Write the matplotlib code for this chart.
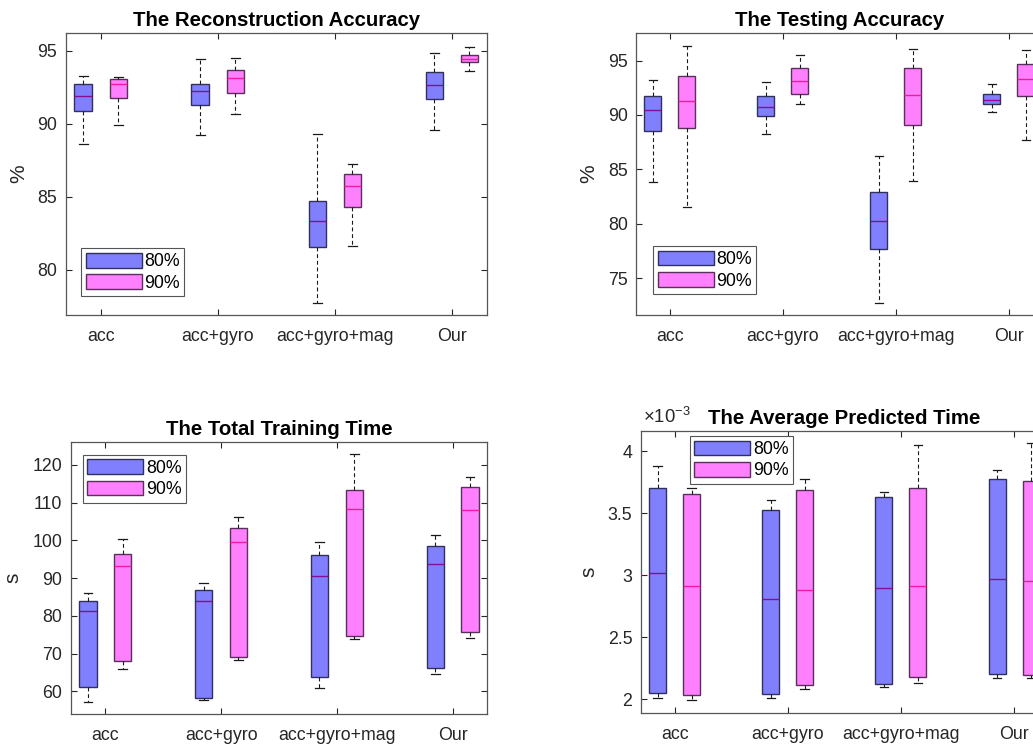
import matplotlib
matplotlib.use("Agg")
import matplotlib.pyplot as plt
from matplotlib.patches import Patch
from matplotlib.ticker import FuncFormatter, FixedLocator

plt.rcParams['font.family'] = ['Liberation Sans', 'DejaVu Sans']
plt.rcParams['mathtext.fontset'] = 'custom'
plt.rcParams['mathtext.rm'] = 'Liberation Sans'
plt.rcParams['mathtext.it'] = 'Liberation Sans:italic'

categories = ['acc', 'acc+gyro', 'acc+gyro+mag', 'Our']
series_labels = ['80%', '90%']

# Five-number summaries per category: [lower whisker, Q1, median, Q3, upper whisker]
recon_80 = [[88.63, 90.91, 91.92, 92.72, 93.31],
            [89.22, 91.32, 92.24, 92.76, 94.47],
            [77.72, 81.58, 83.33, 84.73, 89.32],
            [89.57, 91.67, 92.67, 93.52, 94.82]]
recon_90 = [[89.91, 91.74, 92.72, 93.08, 93.20],
            [90.64, 92.12, 93.15, 93.68, 94.54],
            [81.60, 84.32, 85.75, 86.53, 87.28],
            [93.65, 94.22, 94.43, 94.70, 95.27]]

test_80 = [[83.85, 88.52, 90.42, 91.77, 93.19],
           [88.24, 89.87, 90.73, 91.77, 93.06],
           [72.66, 77.70, 80.28, 82.90, 86.18],
           [90.27, 91.04, 91.34, 91.96, 92.85]]
test_90 = [[81.54, 88.82, 91.25, 93.62, 96.29],
           [90.98, 91.90, 93.10, 94.29, 95.49],
           [83.88, 89.07, 91.84, 94.29, 96.04],
           [87.72, 91.71, 93.34, 94.72, 95.98]]

train_80 = [[57.19, 61.08, 81.40, 84.05, 86.08],
            [57.72, 58.16, 83.96, 86.87, 88.64],
            [61.00, 63.82, 90.58, 96.06, 99.51],
            [64.52, 66.20, 93.85, 98.62, 101.36]]
train_90 = [[66.03, 68.06, 93.14, 96.33, 100.48],
            [68.23, 69.20, 99.68, 103.30, 106.13],
            [73.89, 74.77, 108.43, 113.37, 122.83],
            [74.24, 75.65, 108.07, 114.26, 116.90]]

pred_80 = [[2.008e-3, 2.051e-3, 3.022e-3, 3.702e-3, 3.882e-3],
           [2.013e-3, 2.046e-3, 2.809e-3, 3.524e-3, 3.610e-3],
           [2.099e-3, 2.121e-3, 2.898e-3, 3.629e-3, 3.675e-3],
           [2.169e-3, 2.202e-3, 2.970e-3, 3.777e-3, 3.852e-3]]
pred_90 = [[1.992e-3, 2.032e-3, 2.911e-3, 3.659e-3, 3.707e-3],
           [2.083e-3, 2.118e-3, 2.884e-3, 3.688e-3, 3.774e-3],
           [2.129e-3, 2.177e-3, 2.914e-3, 3.704e-3, 4.054e-3],
           [2.172e-3, 2.194e-3, 2.952e-3, 3.758e-3, 4.070e-3]]

FACE = ['#8080ff', '#ff80ff']
EDGE = ['#30305a', '#5a305a']
MEDIAN = ['#84108e', '#ec1c9c']
AX_COL = '#262626'
FS = 12.8
LABEL_FS = 15
TITLE_FS = 14.7

fig = plt.figure(figsize=(10.33, 7.44), dpi=100)


def to_stats(rows):
    return [dict(whislo=r[0], q1=r[1], med=r[2], q3=r[3], whishi=r[4], fliers=[])
            for r in rows]


def panel(rect, s80, s90, title, ylabel, ylim, yticks, leg_loc, leg_anchor, scale=None):
    ax = fig.add_axes(rect)
    base = list(range(1, len(categories) + 1))
    for k, (rows, off) in enumerate(((s80, -0.15), (s90, 0.15))):
        ax.bxp(to_stats(rows), positions=[b + off for b in base], widths=0.15,
               capwidths=0.075, patch_artist=True, showfliers=False,
               manage_ticks=False,
               boxprops=dict(facecolor=FACE[k], edgecolor=EDGE[k], linewidth=1.0),
               medianprops=dict(color=MEDIAN[k], linewidth=1.0),
               whiskerprops=dict(color='#1a1a1a', linewidth=0.8,
                                 linestyle=(0, (3.5, 2.5))),
               capprops=dict(color='#1a1a1a', linewidth=0.9))
    ax.set_xlim(0.7, 4.3)
    ax.set_ylim(*ylim)
    ax.set_xticks(base)
    ax.set_xticklabels(categories)
    ax.yaxis.set_major_locator(FixedLocator(yticks))
    if scale is not None:
        ax.yaxis.set_major_formatter(FuncFormatter(lambda v, p: f'{v / scale:g}'))
        ax.text(0.005, 1.015, r'$\times10^{-3}$', transform=ax.transAxes,
                ha='left', va='bottom', fontsize=FS + 0.5, color=AX_COL)
    else:
        ax.yaxis.set_major_formatter(FuncFormatter(lambda v, p: f'{v:g}'))
    ax.tick_params(direction='in', top=True, right=True, length=4, width=0.8,
                   colors=AX_COL, labelsize=FS)
    ax.tick_params(axis='x', pad=9)
    ax.tick_params(axis='y', pad=6)
    for sp in ax.spines.values():
        sp.set_color('#555555')
        sp.set_linewidth(0.9)
    ax.set_title(title, fontsize=TITLE_FS, fontweight='bold', pad=5)
    ax.set_ylabel(ylabel, fontsize=LABEL_FS, color=AX_COL, labelpad=7)
    handles = [Patch(facecolor=FACE[i], edgecolor=EDGE[i], linewidth=1.0,
                     label=series_labels[i]) for i in range(2)]
    leg = ax.legend(handles=handles, loc=leg_loc, bbox_to_anchor=leg_anchor,
                    borderaxespad=0, fontsize=FS, handlelength=3.15,
                    handleheight=0.9, handletextpad=0.15, labelspacing=0.22,
                    borderpad=0.25, fancybox=False, framealpha=1, edgecolor='#555555')
    leg.get_frame().set_linewidth(0.8)
    return ax


panel([0.0636, 0.5766, 0.4078, 0.3786], recon_80, recon_90,
      'The Reconstruction Accuracy', '%', (76.9, 96.2), [80, 85, 90, 95],
      'lower left', (0.037, 0.067))
panel([0.6157, 0.5766, 0.3938, 0.3786], test_80, test_90,
      'The Testing Accuracy', '%', (71.6, 97.5), [75, 80, 85, 90, 95],
      'lower left', (0.0425, 0.0745))
panel([0.0684, 0.0403, 0.4033, 0.3652], train_80, train_90,
      'The Total Training Time', 's', (54, 126), [60, 70, 80, 90, 100, 110, 120],
      'upper left', (0.029, 0.954))
panel([0.6202, 0.0413, 0.3943, 0.3794], pred_80, pred_90,
      'The Average Predicted Time', 's', (1.887e-3, 4.164e-3),
      [2e-3, 2.5e-3, 3e-3, 3.5e-3, 4e-3],
      'upper left', (0.121, 0.982), scale=1e-3)

fig.savefig('out.png', dpi=100)
